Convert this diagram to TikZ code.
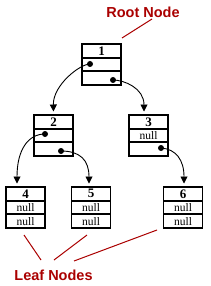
\documentclass[tikz,border=0pt]{standalone}
\usepackage{fontspec}
\setmainfont{Liberation Serif}
\newfontfamily\labelfont{Liberation Sans}
\usetikzlibrary{arrows.meta}
\definecolor{labelred}{RGB}{170,0,0}
\tikzset{
  cell/.style={draw, line width=1.9pt, minimum width=39pt, minimum height=13.67pt, inner sep=0pt, font=\fontsize{11.5}{11.5}\selectfont},
  numcell/.style={cell, font=\fontsize{13}{13}\selectfont\bfseries},
  ptr/.style={circle, fill, inner sep=0pt, minimum size=6pt},
  link/.style={line width=0.9pt, -{Triangle[width=7pt,length=7pt]}, shorten >=2.5pt},
  callout/.style={labelred, line width=1pt},
  tag/.style={labelred, font=\labelfont\fontsize{14.5}{14.5}\selectfont\bfseries}
}
\begin{document}
\begin{tikzpicture}[x=1pt,y=-1pt]
\useasboundingbox (0,0) rectangle (210,286);
% box 1
\node[numcell] (n1A) at (101.5,50.8) {1};
\node[cell] (n1B) at (101.5,64.5) {};
\node[cell] (n1C) at (101.5,78.2) {};
% box 2
\node[numcell] (n2A) at (53.5,121.8) {2};
\node[cell] (n2B) at (53.5,135.5) {};
\node[cell] (n2C) at (53.5,149.2) {};
% box 3
\node[numcell] (n3A) at (148.5,121.8) {3};
\node[cell] (n3B) at (148.5,135.5) {null};
\node[cell] (n3C) at (148.5,149.2) {};
% box 4
\node[numcell] (n4A) at (25.5,193.8) {4};
\node[cell] (n4B) at (25.5,207.5) {null};
\node[cell] (n4C) at (25.5,221.2) {null};
% box 5
\node[numcell] (n5A) at (91,193.8) {5};
\node[cell] (n5B) at (91,207.5) {null};
\node[cell] (n5C) at (91,221.2) {null};
% box 6
\node[numcell] (n6A) at (183,193.8) {6};
\node[cell] (n6B) at (183,207.5) {null};
\node[cell] (n6C) at (183,221.2) {null};
% pointers
\node[ptr] (p1L) at (90,64) {};
\node[ptr] (p1R) at (113,80) {};
\node[ptr] (p2L) at (45,134) {};
\node[ptr] (p2R) at (61,151) {};
\node[ptr] (p3R) at (161,148) {};
% links
\draw[link] (p1L.center) .. controls (80,64) and (53,85) .. (n2A.north);
\draw[link] (p1R.center) .. controls (124,80) and (144,88) .. ([xshift=-4.5pt]n3A.north);
\draw[link] (p2L.center) .. controls (28,134) and (17,150) .. ([xshift=-8.5pt]n4A.north);
\draw[link] (p2R.center) .. controls (80,151) and (89,160) .. ([xshift=-2pt]n5A.north);
\draw[link] (p3R.center) .. controls (176,149) and (184,160) .. ([xshift=1pt]n6A.north);
% labels
\node[tag] (root) at (143,12) {Root Node};
\node[tag] (leaf) at (53.5,275) {Leaf Nodes};
\coordinate (r1) at (152,19);
\coordinate (r2) at (122,38);
\draw[callout] (r1) -- (r2);
\coordinate (l1a) at (24,235);
\coordinate (l1b) at (41,260);
\coordinate (l2a) at (87,235);
\coordinate (l2b) at (54,260);
\coordinate (l3a) at (157,230);
\coordinate (l3b) at (74,261);
\draw[callout] (l1a) -- (l1b);
\draw[callout] (l2a) -- (l2b);
\draw[callout] (l3a) -- (l3b);
\end{tikzpicture}
\end{document}
